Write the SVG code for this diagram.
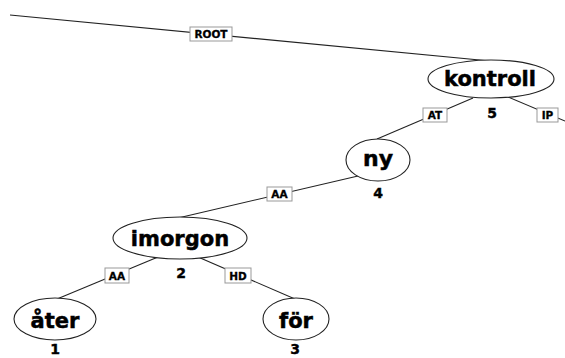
<svg xmlns="http://www.w3.org/2000/svg" width="565" height="358" viewBox="0 0 565 358">
<style>
.edge{stroke:#222;stroke-width:1.1;fill:none}
.node ellipse{fill:#fff;stroke:#222;stroke-width:1.1}
.word{font-family:"DejaVu Sans",sans-serif;font-weight:bold;font-size:21px;text-anchor:middle;fill:#000;stroke:#000;stroke-width:0.5}
.num{font-family:"DejaVu Sans",sans-serif;font-weight:bold;font-size:14px;text-anchor:middle;fill:#000;stroke:#000;stroke-width:0.4}
.lab rect{fill:#fff;stroke:#999;stroke-width:1}
.lab text{font-family:"DejaVu Sans",sans-serif;font-weight:bold;font-size:10.5px;text-anchor:middle;fill:#000;stroke:#000;stroke-width:0.3}
</style>
<rect width="565" height="358" fill="#fff"/>
<g id="connectors">
<path class="edge" d="M10,15 L490,61"/>
<path class="edge" d="M473,98 L377,139"/>
<path class="edge" d="M508,97 L565,121"/>
<path class="edge" d="M358,176 L178,218"/>
<path class="edge" d="M158,257 L57,299"/>
<path class="edge" d="M198,257 L295,299"/>
<g class="lab"><rect x="190" y="27" width="42" height="14"/><text x="211" y="38">ROOT</text></g>
<g class="lab"><rect x="423" y="108" width="24" height="14"/><text x="435" y="119">AT</text></g>
<g class="lab"><rect x="537" y="108" width="21" height="14"/><text x="547.5" y="119">IP</text></g>
<g class="lab"><rect x="267" y="187" width="25" height="14"/><text x="279.5" y="198">AA</text></g>
<g class="lab"><rect x="105" y="268" width="24" height="15"/><text x="117" y="279.5">AA</text></g>
<g class="lab"><rect x="225" y="268" width="26" height="15"/><text x="238" y="279.5">HD</text></g>
</g>
<g id="n5" class="node"><ellipse cx="491" cy="79" rx="63" ry="19"/><text class="word" x="490" y="86">kontroll</text><text class="num" x="492" y="118">5</text></g>
<g id="n4" class="node"><ellipse cx="378" cy="160" rx="32" ry="21"/><text class="word" x="378" y="166" style="font-size:22px">ny</text><text class="num" x="378" y="198">4</text></g>
<g id="n2" class="node"><ellipse cx="180" cy="238" rx="67" ry="21"/><text class="word" x="180" y="246">imorgon</text><text class="num" x="181" y="278">2</text></g>
<g id="n1" class="node"><ellipse cx="55" cy="319" rx="41" ry="21"/><text class="word" x="55" y="328">åter</text><text class="num" x="55" y="354">1</text></g>
<g id="n3" class="node"><ellipse cx="296" cy="319" rx="33" ry="21"/><text class="word" x="296" y="328">för</text><text class="num" x="295" y="354">3</text></g>
</svg>
